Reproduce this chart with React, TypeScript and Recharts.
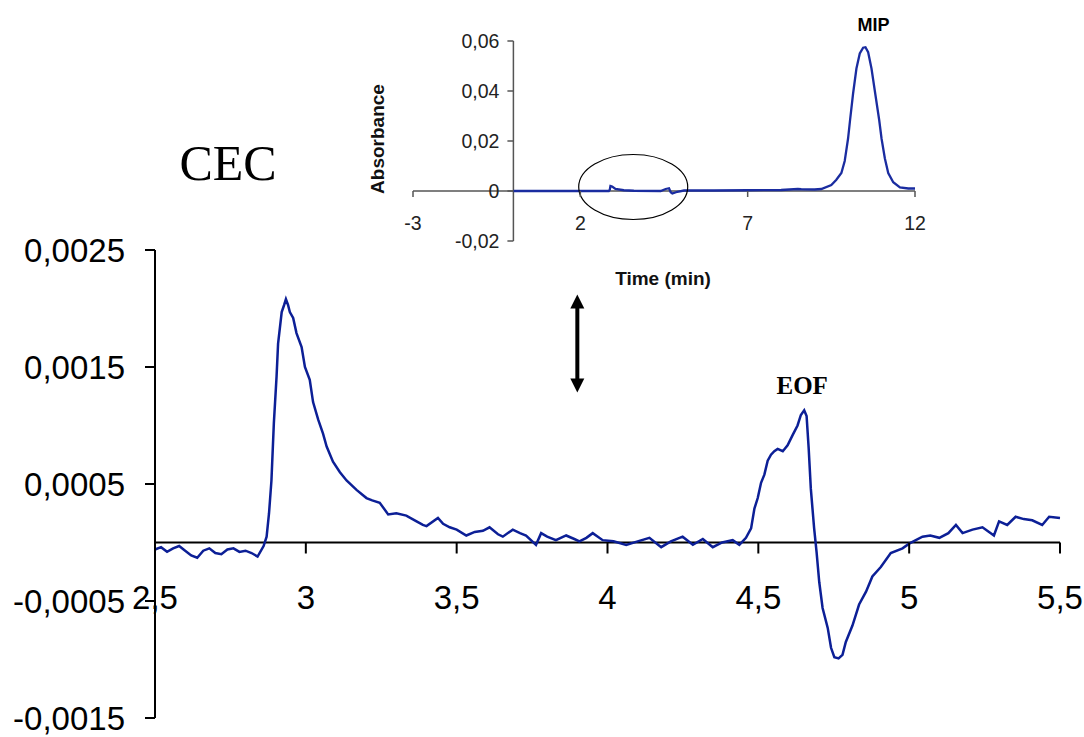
import React from "react";
import { LineChart, Line, XAxis, YAxis, ReferenceLine, ReferenceDot } from "recharts";

// main CEC trace (time in min, absorbance)
const mainTime = [
  2.5, 2.52, 2.54, 2.56, 2.58, 2.6, 2.62, 2.64, 2.66, 2.68, 2.7, 2.72, 2.74, 2.76, 2.78, 2.8, 2.82, 2.84, 2.86,
  2.87, 2.878, 2.886, 2.894, 2.903, 2.908, 2.92, 2.928, 2.934, 2.941, 2.947, 2.958, 2.969, 2.986, 2.997, 3.013,
  3.024, 3.041, 3.057, 3.069, 3.09, 3.113, 3.135, 3.168, 3.201, 3.22, 3.245, 3.273, 3.3, 3.333, 3.367, 3.388,
  3.4, 3.438, 3.455, 3.477, 3.5, 3.532, 3.56, 3.587, 3.609, 3.637, 3.653, 3.686, 3.71, 3.73, 3.763, 3.78, 3.8,
  3.829, 3.863, 3.89, 3.907, 3.93, 3.951, 3.984, 4.02, 4.062, 4.1, 4.139, 4.178, 4.21, 4.249, 4.283, 4.316,
  4.349, 4.38, 4.415, 4.437, 4.459, 4.476, 4.487, 4.498, 4.509, 4.52, 4.531, 4.542, 4.553, 4.564, 4.581, 4.597,
  4.614, 4.63, 4.641, 4.652, 4.66, 4.667, 4.674, 4.685, 4.693, 4.702, 4.713, 4.73, 4.741, 4.752, 4.766, 4.779,
  4.79, 4.812, 4.834, 4.857, 4.878, 4.906, 4.939, 4.978, 5.0, 5.044, 5.07, 5.1, 5.13, 5.155, 5.177, 5.21, 5.243,
  5.281, 5.298, 5.325, 5.353, 5.38, 5.408, 5.441, 5.464, 5.5,
];
const mainAbs = [
  -0.00006, -0.00004, -0.00008, -0.00005, -0.00003, -0.00007, -0.00011, -0.00013, -0.00007, -0.00005, -0.00009,
  -0.0001, -0.00006, -0.00005, -0.00008, -0.00007, -0.00009, -0.00012, -0.00003,
  0.00005, 0.00025, 0.00053, 0.00102, 0.00142, 0.0017, 0.00197, 0.00203, 0.00208, 0.00203, 0.00197, 0.00192,
  0.00179, 0.00167, 0.0015, 0.00139, 0.0012, 0.00105, 0.00093, 0.00082, 0.00069, 0.0006, 0.00053, 0.00045,
  0.00038, 0.00036, 0.00034, 0.00024, 0.00025, 0.00023, 0.00018, 0.00015, 0.00014, 0.00021, 0.00016, 0.00013,
  0.00011, 0.00006, 0.00009, 0.0001, 0.00013, 0.00007, 0.00005, 0.00011, 0.00008, 0.00006, -0.00002, 0.00008,
  0.00005, 0.00002, 0.00006, 0.00003, 0.00001, 0.00004, 0.00008, 0.00002, 0.00001, -0.00002, 0.00001, 0.00004,
  -0.00004, 0.00001, 0.00005, -0.00002, 0.00003, -0.00004, 0.0, 0.00002, -0.00002, 0.00004, 0.00012, 0.00029,
  0.00038, 0.00051, 0.00058, 0.0007, 0.00075, 0.00078, 0.0008, 0.00078, 0.00083, 0.00092, 0.001, 0.00109,
  0.00113, 0.00108, 0.0008, 0.00046, 0.00012, -0.00008, -0.00034, -0.00056, -0.00073, -0.0009, -0.00098,
  -0.00099, -0.00096, -0.00085, -0.00071, -0.00053, -0.00042, -0.00029, -0.00021, -0.00009, -0.00005, -0.00001,
  0.00005, 0.00006, 0.00004, 0.00008, 0.00015, 0.00008, 0.00011, 0.00013, 0.00006, 0.00018, 0.00015, 0.00022,
  0.0002, 0.00019, 0.00015, 0.00022, 0.00021,
];
const mainXTicks = [2.5, 3, 3.5, 4, 4.5, 5, 5.5];
const mainYTicks = [0.0025, 0.0015, 0.0005, -0.0005, -0.0015];

// inset: full run with MIP peak
const insetTime = [
  0, 2.85, 2.88, 2.9, 2.95, 3.05, 3.3, 3.6, 4.4, 4.55, 4.65, 4.7, 4.75, 4.9, 5.1, 6, 7, 8, 8.5, 8.6, 9, 9.2, 9.5,
  9.65, 9.8, 9.9, 10.0, 10.06, 10.15, 10.25, 10.35, 10.45, 10.52, 10.6, 10.7, 10.8, 10.93, 11.0, 11.1, 11.2,
  11.35, 11.55, 11.8, 12,
];
const insetAbs = [
  0, 0, 0.0005, 0.002, 0.0018, 0.0008, 0.0003, 0.0001, 0, 0.0008, 0.0011, -0.0005, -0.001, -0.0003, 0.0002,
  0.0002, 0.0003, 0.0004, 0.0008, 0.0007, 0.0006, 0.0008, 0.0024, 0.0045, 0.0072, 0.012, 0.021, 0.0284, 0.039,
  0.049, 0.055, 0.0573, 0.0575, 0.0555, 0.049, 0.04, 0.0284, 0.021, 0.013, 0.0072, 0.0035, 0.0014, 0.001, 0.001,
];
const insetXTicks = [-3, 2, 7, 12];
const insetYTicks = [-0.02, 0, 0.02, 0.04, 0.06];

const mainData = mainTime.map((t, i) => ({ t, v: mainAbs[i] }));
const insetData = insetTime.map((t, i) => ({ t, v: insetAbs[i] }));

const sans = "'Liberation Sans', Arial, sans-serif";
const serif = "'Liberation Serif', 'Times New Roman', serif";
const comma = (v: number) => String(v).replace(".", ",");

const W = 1084;
const H = 737;

// main plot box
const M = { top: 250, right: 24, bottom: 18, left: 5 };
const mainYAxisW = 150;
const mainPlotH = H - M.top - M.bottom - 1;
const mainZeroY = M.top + (mainPlotH * 0.0025) / 0.004;

// inset plot box
const IH = 300;
const I = { top: 41, right: 169, bottom: 49, left: 403 };
const insetYAxisW = 10;
const insetPlotL = I.left + insetYAxisW;
const insetPlotW = W - insetPlotL - I.right;
const insetPlotH = IH - I.top - I.bottom - 10;
const insetZeroX = insetPlotL + (insetPlotW * 3) / 15;
const insetZeroY = I.top + (insetPlotH * 0.06) / 0.08;

const MainXTick = (props: any) => {
  const { x, payload } = props;
  return (
    <g>
      <line x1={x} x2={x} y1={mainZeroY} y2={mainZeroY + 11} stroke="#000" strokeWidth={2} />
      <text x={x} y={mainZeroY + 55} dy="0.355em" textAnchor="middle" fontSize={33} fontFamily={sans} fill="#000">
        {comma(payload.value)}
      </text>
    </g>
  );
};

const InsetXTick = (props: any) => {
  const { x, payload } = props;
  return (
    <g>
      <line x1={x} x2={x} y1={insetZeroY} y2={insetZeroY + 6} stroke="#555" strokeWidth={1.5} />
      <text x={x} y={insetZeroY + 32} dy="0.355em" textAnchor="middle" fontSize={19.5} fontFamily={sans} fill="#222">
        {payload.value}
      </text>
    </g>
  );
};

const InsetYTick = (props: any) => {
  const { y, payload } = props;
  return (
    <g>
      <line x1={insetZeroX - 6} x2={insetZeroX} y1={y} y2={y} stroke="#555" strokeWidth={1.5} />
      <text x={insetZeroX - 14} y={y} dy="0.355em" textAnchor="end" fontSize={19.5} fontFamily={sans} fill="#222">
        {comma(payload.value)}
      </text>
    </g>
  );
};

const DoubleArrow = (props: any) => {
  const { cx, cy } = props;
  const h = 49;
  return (
    <g fill="#000">
      <line x1={cx} x2={cx} y1={cy - h + 10} y2={cy + h - 10} stroke="#000" strokeWidth={4} />
      <polygon points={`${cx},${cy - h} ${cx - 7},${cy - h + 14} ${cx + 7},${cy - h + 14}`} />
      <polygon points={`${cx},${cy + h} ${cx - 7},${cy + h - 14} ${cx + 7},${cy + h - 14}`} />
    </g>
  );
};

const EofLabel = (props: any) => (
  <text x={props.cx - 2} y={props.cy - 16} textAnchor="middle" fontSize={25} fontWeight="bold" fontFamily={serif} fill="#000">
    EOF
  </text>
);

const MipLabel = (props: any) => (
  <text x={props.cx + 8} y={props.cy - 16} textAnchor="middle" fontSize={18} fontWeight="bold" fontFamily={sans} fill="#000">
    MIP
  </text>
);

const Ellipse = (props: any) => (
  <ellipse cx={props.cx} cy={props.cy} rx={54.5} ry={32.5} fill="none" stroke="#000" strokeWidth={1.2} />
);

export default function App() {
  return (
    <div style={{ position: "absolute", left: 0, top: 0, width: W, height: H, background: "#fff" }}>
      <div style={{ position: "absolute", left: 0, top: 0 }}>
        <LineChart width={W} height={H} data={mainData} margin={M}>
          <XAxis
            type="number"
            dataKey="t"
            domain={[2.5, 5.5]}
            ticks={mainXTicks}
            interval={0}
            height={1}
            axisLine={false}
            tickLine={false}
            tick={(p: any) => <MainXTick {...p} />}
          />
          <YAxis
            type="number"
            domain={[-0.0015, 0.0025]}
            ticks={mainYTicks}
            interval={0}
            width={mainYAxisW}
            axisLine={{ stroke: "#000", strokeWidth: 2 }}
            tickLine={{ stroke: "#000", strokeWidth: 2 }}
            tickSize={10}
            tickMargin={20}
            tick={{ fontSize: 33, fill: "#000", fontFamily: sans }}
            tickFormatter={comma}
          />
          <ReferenceLine y={0} stroke="#000" strokeWidth={2} />
          <Line type="linear" dataKey="v" stroke="#0c1f96" strokeWidth={2.5} dot={false} isAnimationActive={false} />
          <ReferenceDot x={3.9} y={0.0017} r={0} shape={(p: any) => <DoubleArrow {...p} />} />
          <ReferenceDot x={4.652} y={0.00113} r={0} shape={(p: any) => <EofLabel {...p} />} />
        </LineChart>
      </div>
      <div style={{ position: "absolute", left: 0, top: 0 }}>
        <LineChart width={W} height={IH} data={insetData} margin={I}>
          <XAxis
            type="number"
            dataKey="t"
            domain={[-3, 12]}
            ticks={insetXTicks}
            interval={0}
            height={10}
            axisLine={false}
            tickLine={false}
            tick={(p: any) => <InsetXTick {...p} />}
          />
          <YAxis
            type="number"
            domain={[-0.02, 0.06]}
            ticks={insetYTicks}
            interval={0}
            width={insetYAxisW}
            axisLine={false}
            tickLine={false}
            tick={(p: any) => <InsetYTick {...p} />}
          />
          <ReferenceLine y={0} stroke="#555" strokeWidth={1.5} />
          <ReferenceLine x={0} stroke="#555" strokeWidth={1.5} />
          <Line type="linear" dataKey="v" stroke="#1a2ca0" strokeWidth={2.3} dot={false} isAnimationActive={false} />
          <ReferenceDot x={3.58} y={0.0016} r={0} shape={(p: any) => <Ellipse {...p} />} />
          <ReferenceDot x={10.52} y={0.0575} r={0} shape={(p: any) => <MipLabel {...p} />} />
        </LineChart>
      </div>
      <svg width={W} height={H} style={{ position: "absolute", left: 0, top: 0, pointerEvents: "none" }}>
        <text x={228} y={180} textAnchor="middle" fontSize={50} fontFamily={serif} fill="#000">
          CEC
        </text>
        <text
          x={384}
          y={139}
          textAnchor="middle"
          fontSize={19}
          fontWeight="bold"
          fontFamily={sans}
          fill="#111"
          transform="rotate(-90 384 139)"
        >
          Absorbance
        </text>
        <text x={663} y={285} textAnchor="middle" fontSize={19} fontWeight="bold" fontFamily={sans} fill="#111">
          Time (min)
        </text>
      </svg>
    </div>
  );
}
